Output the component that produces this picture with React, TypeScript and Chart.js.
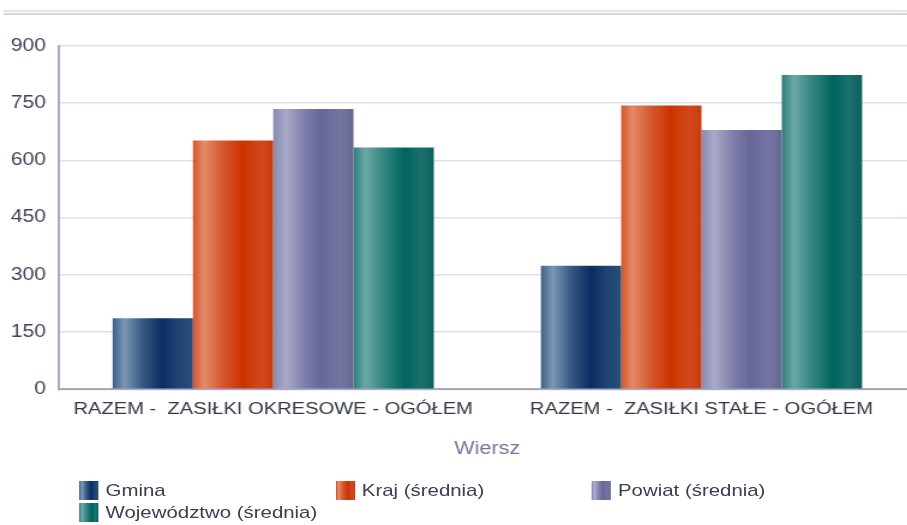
import React, { useEffect, useRef } from 'react';
import { Chart, registerables } from 'chart.js';

Chart.register(...registerables);

// ---- data ----
const categories = ['RAZEM -  ZASIŁKI OKRESOWE - OGÓŁEM', 'RAZEM -  ZASIŁKI STAŁE - OGÓŁEM'];
const seriesNames = ['Gmina', 'Kraj (średnia)', 'Powiat (średnia)', 'Województwo (średnia)'];
const gmina = [186, 324];
const kraj = [652, 744];
const powiat = [735, 680];
const wojewodztwo = [634, 824];
const yTickValues = [0, 150, 300, 450, 600, 750, 900];
const xAxisTitle = 'Wiersz';

// ---- styles ----
const STRETCH = 1.2;
const W = 765;
const H = 470;
const FONT = "'Liberation Sans', Arial, Helvetica, sans-serif";

const gradientStops: [number, string][][] = [
  [[0, '#3f6189'], [0.15, '#7b97b5'], [0.36, '#3a5c85'], [0.62, '#0a2d64'], [0.82, '#1f4574'], [1, '#294d79']],
  [[0, '#d4562c'], [0.14, '#e58a69'], [0.36, '#d45a30'], [0.62, '#cc3300'], [0.85, '#d04a1c'], [1, '#c93b12']],
  [[0, '#8a8ab0'], [0.16, '#a9a9c9'], [0.4, '#7e7eaa'], [0.6, '#67679a'], [0.85, '#7575a4'], [1, '#66668f']],
  [[0, '#2f7d7a'], [0.15, '#6aa9a6'], [0.38, '#338580'], [0.64, '#00655f'], [0.85, '#1b716c'], [1, '#0d5f5a']],
];

const cssGradient = (stops: [number, string][]) =>
  `linear-gradient(to right, ${stops.map(([p, c]) => `${c} ${p * 100}%`).join(', ')})`;

const barGradientPlugin = {
  id: 'barGradient',
  beforeDatasetsDraw(chart: any) {
    const ctx = chart.ctx;
    chart.data.datasets.forEach((_ds: any, i: number) => {
      const meta = chart.getDatasetMeta(i);
      meta.data.forEach((el: any) => {
        const { x, width } = el.getProps(['x', 'width'], true);
        const g = ctx.createLinearGradient(x - width / 2, 0, x + width / 2, 0);
        gradientStops[i].forEach(([p, c]) => g.addColorStop(p, c));
        el.options = Object.assign({}, el.options, { backgroundColor: g });
      });
    });
  },
};

export default function App() {
  const canvasRef = useRef<HTMLCanvasElement | null>(null);

  useEffect(() => {
    if (!canvasRef.current) return;
    const series = [gmina, kraj, powiat, wojewodztwo];
    const chart = new Chart(canvasRef.current, {
      type: 'bar',
      data: {
        labels: categories,
        datasets: series.map((d, i) => ({
          label: seriesNames[i],
          data: d,
          backgroundColor: gradientStops[i][3][1],
          borderWidth: 0,
          categoryPercentage: 0.75,
          barPercentage: 1,
        })),
      },
      options: {
        responsive: false,
        animation: false,
        devicePixelRatio: 1,
        layout: { padding: { top: 46, right: 2, left: 0, bottom: 0 } },
        plugins: {
          legend: { display: false },
          tooltip: { enabled: false },
        },
        scales: {
          x: {
            grid: { display: false },
            border: { display: true, color: '#a8a8c6', width: 2 },
            ticks: {
              padding: 2,
              color: '#333844',
              font: { family: FONT, size: 16.8 },
              maxRotation: 0,
              autoSkip: false,
            },
            title: {
              display: true,
              text: xAxisTitle,
              color: '#74749a',
              font: { family: FONT, size: 18 },
              padding: { top: 0, bottom: 10 },
            },
            afterFit: (s: any) => {
              s.height = 80.7;
            },
          },
          y: {
            min: 0,
            max: 900,
            afterBuildTicks: (s: any) => {
              s.ticks = yTickValues.map((v) => ({ value: v }));
            },
            afterFit: (s: any) => {
              s.width = 49.2;
            },
            grid: { color: '#e0e0ea', lineWidth: 1.5, drawTicks: false },
            border: { display: true, color: '#a8a8c6', width: 2 },
            ticks: {
              padding: 11,
              color: '#3e4356',
              font: { family: FONT, size: 17.5 },
            },
          },
        },
      },
      plugins: [barGradientPlugin],
    });
    return () => chart.destroy();
  }, []);

  return (
    <div
      style={{
        position: 'fixed',
        left: 0,
        top: 0,
        width: 907,
        height: 525,
        overflow: 'hidden',
        background: '#ffffff',
      }}
    >
      <div
        style={{
          position: 'absolute',
          left: 0,
          top: 0,
          width: W,
          height: 525,
          transform: `scaleX(${STRETCH})`,
          transformOrigin: '0 0',
        }}
      >
        <div style={{ position: 'absolute', left: 2.5, top: 10, width: W, height: 2, background: '#e4e4ee' }} />
        <div style={{ position: 'absolute', left: 2.5, top: 13, width: W, height: 2, background: '#d6d6e4' }} />
        <canvas
          ref={canvasRef}
          width={W}
          height={H}
          style={{ position: 'absolute', left: 0, top: 0, width: W, height: H }}
        />
        {seriesNames.map((name, i) => (
          <div
            key={name}
            style={{
              position: 'absolute',
              left: 66 + (i % 3) * 213.5,
              top: 481 + Math.floor(i / 3) * 22,
              height: 19,
              whiteSpace: 'nowrap',
            }}
          >
            <div
              style={{
                position: 'absolute',
                left: 0,
                top: 0,
                width: 16,
                height: 19,
                background: cssGradient(gradientStops[i]),
              }}
            />
            <div
              style={{
                position: 'absolute',
                left: 22,
                top: 0,
                lineHeight: '20px',
                fontFamily: FONT,
                fontSize: 17,
                color: '#3b3f4e',
              }}
            >
              {name}
            </div>
          </div>
        ))}
      </div>
    </div>
  );
}
